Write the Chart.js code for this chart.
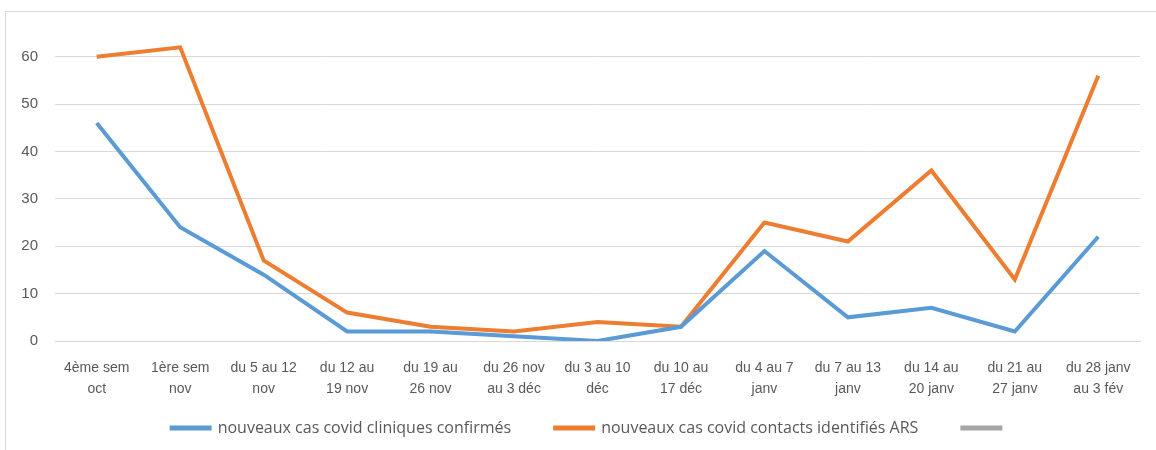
<!DOCTYPE html>
<html>
<head>
<meta charset="utf-8">
<script src="https://cdn.jsdelivr.net/npm/chart.js@4"></script>
<style>
    html, body { margin: 0; padding: 0; background: #fff; overflow: hidden; }
    #frame { position: absolute; left: 5px; top: 11px; width: 1200px; height: 500px; border: 1px solid #d9d9d9; }
    #wrap { position: absolute; left: 0; top: 0; width: 1156px; height: 450px; }
</style>
</head>
<body>
<div id="frame"></div>
<div id="wrap"><canvas id="chart" width="1156" height="450"></canvas></div>
<script>
    // weekly periods
    var categories = [
        ['4ème sem', 'oct'], ['1ère sem', 'nov'], ['du 5 au 12', 'nov'], ['du 12 au', '19 nov'],
        ['du 19 au', '26 nov'], ['du 26 nov', 'au 3 déc'], ['du 3 au 10', 'déc'], ['du 10 au', '17 déc'],
        ['du 4 au 7', 'janv'], ['du 7 au 13', 'janv'], ['du 14 au', '20 janv'], ['du 21 au', '27 janv'],
        ['du 28 janv', 'au 3 fév']
    ];
    var cliniques = [46, 24, 14, 2, 2, 1, 0, 3, 19, 5, 7, 2, 22];
    var contacts = [60, 62, 17, 6, 3, 2, 4, 3, 25, 21, 36, 13, 56];
    var yTicks = [0, 10, 20, 30, 40, 50, 60];

    var FONT = "'Liberation Sans', 'DejaVu Sans', sans-serif";
    var TEXT = '#595959';
    var GRID = '#d9d9d9';
    var LEGEND_GAP = 44;   // horizontal gap between legend items
    var LEGEND_VPAD = 9;   // vertical padding actually wanted
    var LEGEND_SHIFT = 20; // legend sits a bit right of the canvas centre

    Chart.defaults.font.family = FONT;
    Chart.defaults.color = TEXT;

    // chart.js uses labels.padding both for item spacing and vertical padding,
    // so shrink the legend box back to the height we want
    let legendGapPlugin = {
        id: 'legendGap',
        afterInit: function (chart) {
            let legend = chart.legend;
            if (!legend) return;
            let fit = legend.fit;
            let draw = legend.draw;
            legend.fit = function () {
                fit.call(this);
                this.height = Math.min(this.height, 16 + LEGEND_VPAD * 2);
            };
            legend.draw = function () {
                let top = this.top, left = this.left, right = this.right;
                this.top = top - (LEGEND_GAP - LEGEND_VPAD);
                this.left = left + LEGEND_SHIFT;
                this.right = right + LEGEND_SHIFT;
                draw.call(this);
                this.top = top;
                this.left = left;
                this.right = right;
            };
        }
    };

    let chartObject = {
        type: 'line',
        data: {
            labels: categories,
            datasets: [
                {
                    label: 'nouveaux cas covid cliniques confirmés',
                    data: cliniques,
                    borderColor: '#5B9BD5',
                    backgroundColor: '#5B9BD5',
                    borderWidth: 4,
                    pointRadius: 0,
                    tension: 0,
                },
                {
                    label: 'nouveaux cas covid contacts identifiés ARS',
                    data: contacts,
                    borderColor: '#ED7D31',
                    backgroundColor: '#ED7D31',
                    borderWidth: 4,
                    pointRadius: 0,
                    tension: 0,
                },
                {
                    label: '',
                    data: [],
                    borderColor: '#A5A5A5',
                    backgroundColor: '#A5A5A5',
                    borderWidth: 4,
                    pointRadius: 0,
                }
            ]
        },
        options: {
            responsive: false,
            animation: false,
            layout: {padding: {top: 10, right: 16, bottom: 5, left: 0}},
            plugins: {
                legend: {
                    position: 'bottom',
                    labels: {
                        boxWidth: 38,
                        boxHeight: 1,
                        padding: LEGEND_GAP,
                        color: TEXT,
                        font: {size: 16, family: "'Open Sans', 'Liberation Sans', sans-serif"},
                    }
                },
                tooltip: {enabled: false},
            },
            scales: {
                x: {
                    offset: true,
                    grid: {display: false, drawTicks: false},
                    border: {display: true, color: GRID, width: 1},
                    ticks: {
                        color: TEXT,
                        font: {size: 14, family: FONT, lineHeight: 1.5},
                        padding: 17,
                        maxRotation: 0,
                        autoSkip: false,
                    },
                    afterFit: function (scale) { scale.height = 70; },
                },
                y: {
                    min: 0,
                    max: 66.5,
                    afterBuildTicks: function (scale) {
                        scale.ticks = yTicks.map(function (v) { return {value: v}; });
                    },
                    grid: {drawTicks: false, color: GRID, lineWidth: 1},
                    border: {display: false},
                    ticks: {
                        color: TEXT,
                        font: {size: 15, family: FONT},
                        padding: 17,
                    },
                    afterFit: function (scale) { scale.width = 55; },
                }
            }
        },
        plugins: [legendGapPlugin]
    };

    new Chart(document.getElementById('chart'), chartObject);
</script>
</body>
</html>
